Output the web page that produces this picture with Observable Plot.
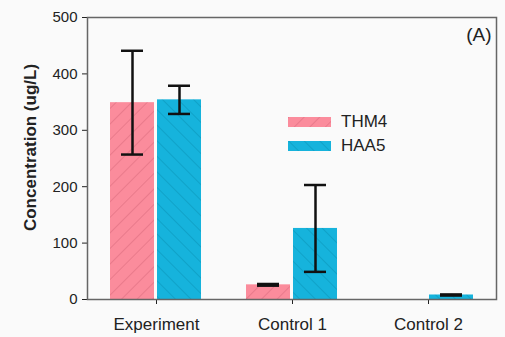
<!DOCTYPE html>
<html>
<head>
<meta charset="utf-8">
<script src="https://cdn.jsdelivr.net/npm/d3@7"></script>
<script src="https://cdn.jsdelivr.net/npm/@observablehq/plot@0.6"></script>
<style>
  html, body { margin: 0; padding: 0; background: #fafafa; }
  #wrap { position: relative; width: 505px; height: 337px; font-family: "Liberation Sans", Arial, sans-serif; }
  #legend { position: absolute; left: 288px; top: 110px; font-size: 17px; color: #222; }
  .row { display: flex; align-items: center; height: 24px; }
  .row svg { margin-right: 10px; }
</style>
</head>
<body>
<div id="wrap"></div>
<script>
const categories = ["Experiment", "Control 1", "Control 2"];
const seriesNames = ["THM4", "HAA5"];
const thm4 = [349, 26, 0];
const thm4Err = [92, 1.5, 0];
const haa5 = [354, 126, 8];
const haa5Err = [25, 77, 1];
const yTicks = [0, 100, 200, 300, 400, 500];
const colors = {THM4: "#fb8c9c", HAA5: "#16b3dc"};
const hatch = {THM4: "#e97a8b", HAA5: "#10a2c8"};

const rows = [];
categories.forEach((c, i) => {
  rows.push({category: c, series: "THM4", value: thm4[i], err: thm4Err[i]});
  rows.push({category: c, series: "HAA5", value: haa5[i], err: haa5Err[i]});
});
const T = rows.filter(d => d.series === "THM4");
const H = rows.filter(d => d.series === "HAA5");
const errs = rows.filter(d => d.err > 0);
const eT = errs.filter(d => d.series === "THM4");
const eH = errs.filter(d => d.series === "HAA5");

const chart = Plot.plot({
  width: 505,
  height: 337,
  marginLeft: 87,
  marginRight: 9,
  marginTop: 17,
  marginBottom: 38,
  style: {fontFamily: "Liberation Sans, Arial, sans-serif", fontSize: "15px", background: "#fafafa", color: "#222"},
  x: {domain: categories, padding: 0, tickSize: 5, tickPadding: 13, label: null},
  y: {domain: [0, 500], ticks: yTicks, tickSize: 5, tickPadding: 5, label: null, tickFormat: d => d},
  marks: [
    Plot.barY(T, {x: "category", y: "value", fill: "url(#hatchTHM4)", insetLeft: 22, insetRight: 70}),
    Plot.barY(H, {x: "category", y: "value", fill: "url(#hatchHAA5)", insetLeft: 69, insetRight: 23}),
    Plot.ruleX(eT, {x: "category", y1: d => d.value - d.err, y2: d => d.value + d.err, dx: -24, stroke: "#111", strokeWidth: 2.5}),
    Plot.ruleX(eH, {x: "category", y1: d => d.value - d.err, y2: d => d.value + d.err, dx: 23, stroke: "#111", strokeWidth: 2.5}),
    Plot.tickY(eT, {x: "category", y: d => d.value + d.err, dx: -24, inset: 57, stroke: "#111", strokeWidth: 2.5}),
    Plot.tickY(eT, {x: "category", y: d => d.value - d.err, dx: -24, inset: 57, stroke: "#111", strokeWidth: 2.5}),
    Plot.tickY(eH, {x: "category", y: d => d.value + d.err, dx: 23, inset: 57, stroke: "#111", strokeWidth: 2.5}),
    Plot.tickY(eH, {x: "category", y: d => d.value - d.err, dx: 23, inset: 57, stroke: "#111", strokeWidth: 2.5}),
    Plot.frame({stroke: "#666", strokeWidth: 1.5}),
    Plot.text(["(A)"], {frameAnchor: "top-right", dx: -5, dy: 10, fontSize: 19, fill: "#222"}),
    Plot.text(["Concentration (ug/L)"], {frameAnchor: "left", textAnchor: "middle", rotate: -90, dx: -57, dy: -11, fontSize: 17, fontWeight: "bold", fill: "#222"})
  ]
});

// x tick labels are larger than y tick labels in the reference
d3.select(chart).selectAll("g[aria-label='x-axis tick label'], g[aria-label='x-axis tick label'] text").style("font-size", "17px");

// hatch pattern definitions
const svg = d3.select(chart);
const defs = svg.insert("defs", ":first-child");
[["THM4", 45], ["HAA5", -45]].forEach(([name, angle]) => {
  const p = defs.append("pattern")
    .attr("id", "hatch" + name)
    .attr("patternUnits", "userSpaceOnUse")
    .attr("width", 11).attr("height", 11)
    .attr("patternTransform", `rotate(${angle})`);
  p.append("rect").attr("width", 11).attr("height", 11).attr("fill", colors[name]);
  p.append("line").attr("x1", 0.5).attr("x2", 0.5).attr("y1", 0).attr("y2", 11)
    .attr("stroke", hatch[name]).attr("stroke-width", 1);
});

const wrap = document.getElementById("wrap");
wrap.appendChild(chart);

const legend = document.createElement("div");
legend.id = "legend";
seriesNames.forEach(name => {
  const row = document.createElement("div");
  row.className = "row";
  row.innerHTML = `<svg width="43" height="10"><rect width="43" height="10" fill="url(#hatch${name})"/></svg><span>${name}</span>`;
  legend.appendChild(row);
});
wrap.appendChild(legend);
</script>
</body>
</html>
